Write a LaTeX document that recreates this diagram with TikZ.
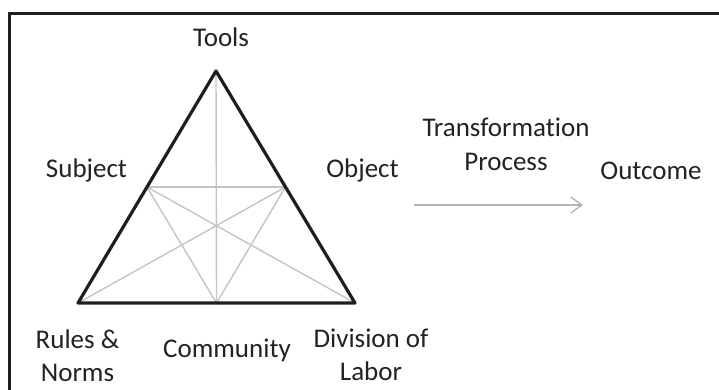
\documentclass[tikz,border=0pt]{standalone}
\usepackage{fontspec}
\setmainfont[Ligatures={NoCommon}]{Carlito}
\usetikzlibrary{arrows.meta}
\definecolor{inkdark}{HTML}{1E1E1E}
\definecolor{thingray}{HTML}{C4C4C4}
\definecolor{arrowgray}{HTML}{B4B4B4}
\definecolor{textcol}{HTML}{222222}
\begin{document}
\begin{tikzpicture}[x=1pt,y=-1pt,
  lbl/.style={inner sep=0pt,anchor=base,text=textcol,font=\fontsize{27}{33}\selectfont,align=center},
  heavy/.style={draw=inkdark,line width=3.2pt,line join=round},
  thin/.style={draw=thingray,line width=1.4pt},
  flowarrow/.style={draw=arrowgray,line width=1.4pt,-{Straight Barb[length=11pt,width=16pt,line width=1.4pt]}},
  frame/.style={draw=inkdark,line width=2.6pt}]
\useasboundingbox (0,0) rectangle (719,390);
\clip (0,0) rectangle (719,390);
\draw[frame] (9.5,13.5) rectangle (740,410);
% triangle points
\coordinate (T) at (216,71);
\coordinate (BL) at (78,303);
\coordinate (BR) at (355,303);
\coordinate (ML) at (147,187);
\coordinate (MR) at (285.5,187);
\coordinate (MB) at (216.5,303);
% inner gray lines
\draw[thin] (T) -- (MB);
\draw[thin] (ML) -- (MR);
\draw[thin] (ML) -- (MB) -- (MR);
\draw[thin] (ML) -- (BR);
\draw[thin] (MR) -- (BL);
% outer triangle
\draw[heavy] (T) -- (BL) -- (BR) -- cycle;
% labels
\node[lbl] (tools) at (221,47) {Tools};
\node[lbl] (subject) at (86.5,178) {Subject};
\node[lbl] (object) at (362.5,178) {Object};
\node[lbl] (trans) at (506,170) {Transformation\\Process};
\node[lbl] (outcome) at (651,179) {Outcome};
\node[lbl] (rules) at (77.5,381) {Rules \&\\Norms};
\node[lbl] (community) at (227,357) {Community};
\node[lbl] (division) at (371,380) {Division of\\Labor};
% arrow
\coordinate (a1) at (414,205);
\coordinate (a2) at (583,205);
\draw[flowarrow] (a1) -- (a2);
\end{tikzpicture}
\end{document}
